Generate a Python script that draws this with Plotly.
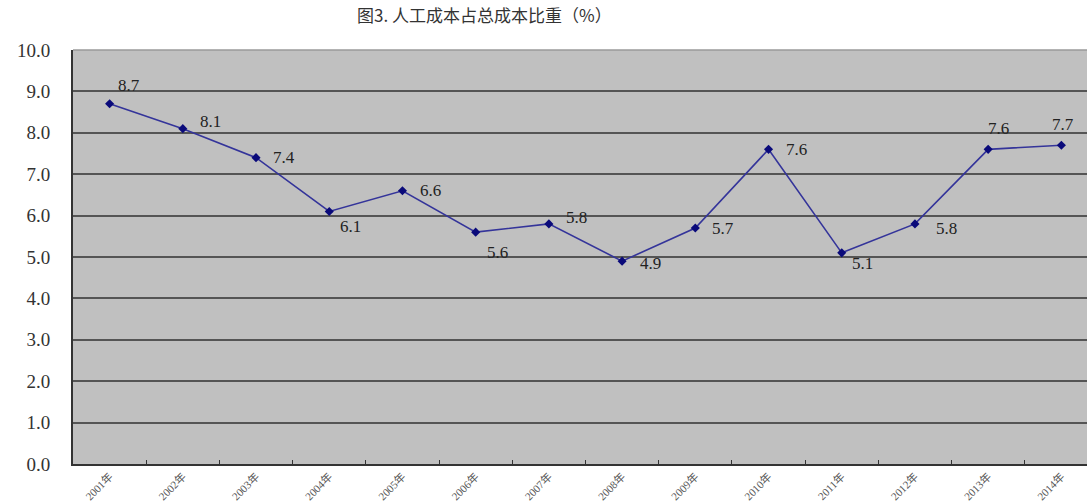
import plotly.graph_objects as go

# Share of labour cost in total cost, 2001-2014 (%)
years = ["2001年", "2002年", "2003年", "2004年", "2005年", "2006年", "2007年",
         "2008年", "2009年", "2010年", "2011年", "2012年", "2013年", "2014年"]
share = [8.7, 8.1, 7.4, 6.1, 6.6, 5.6, 5.8, 4.9, 5.7, 7.6, 5.1, 5.8, 7.6, 7.7]

title_text = "图3. 人工成本占总成本比重（%）"
y_ticks = [0, 1, 2, 3, 4, 5, 6, 7, 8, 9, 10]

# pixel offsets of each value label from its marker (dx, dy; dy up is positive)
label_offsets = [(19, 18), (28, 7), (28, 0), (21, -15), (28, 0), (22, -20),
                 (28, 6), (28, -2), (28, 0), (28, 0), (21, -11), (32, -5),
                 (10, 21), (2, 21)]

num_font = "Liberation Serif, Noto Sans CJK SC, serif"

fig = go.Figure()
fig.add_trace(go.Scatter(
    x=years, y=share,
    mode="lines+markers",
    line=dict(color="#34349a", width=1.6),
    marker=dict(symbol="diamond", size=7, color="#0a0a7a"),
    showlegend=False,
))

annotations = [
    dict(x=yr, y=v, xref="x", yref="y", text=f"{v:.1f}", showarrow=False,
         xshift=dx, yshift=dy, xanchor="center", yanchor="middle",
         font=dict(family=num_font, size=17, color="#222222"))
    for yr, v, (dx, dy) in zip(years, share, label_offsets)
]
annotations.append(dict(
    text=title_text, xref="paper", yref="paper",
    x=0.406, y=1, yshift=36, xanchor="center", yanchor="middle",
    showarrow=False,
    font=dict(family="Noto Sans CJK SC", size=17, color="#333333"),
))

# lighter frame line along the top of the plotting area
fig.add_shape(type="line", xref="paper", yref="paper", x0=0, x1=1, y0=1, y1=1,
              line=dict(color="#9a9a9a", width=1.5), layer="above")

fig.update_layout(
    width=1087, height=503,
    margin=dict(l=73, r=0, t=50, b=39),
    paper_bgcolor="white",
    plot_bgcolor="#c0c0c0",
    annotations=annotations,
)
fig.update_xaxes(
    type="category", range=[-0.5, 13.35],
    tickson="boundaries", ticks="inside", ticklen=4, tickcolor="#333333",
    showline=True, linecolor="#333333", linewidth=2,
    showgrid=False, tickangle=-45,
    tickfont=dict(family=num_font, size=11, color="#555555"),
)
fig.update_yaxes(
    range=[0, 10], tickvals=y_ticks, ticktext=[f"{v:.1f}" for v in y_ticks],
    showgrid=True, gridcolor="#555555", gridwidth=1.5,
    zeroline=False,
    showline=True, linecolor="#333333", linewidth=2,
    ticks="", ticklabelstandoff=17,
    tickfont=dict(family=num_font, size=19, color="#333333"),
)

fig.write_html("out.html")
